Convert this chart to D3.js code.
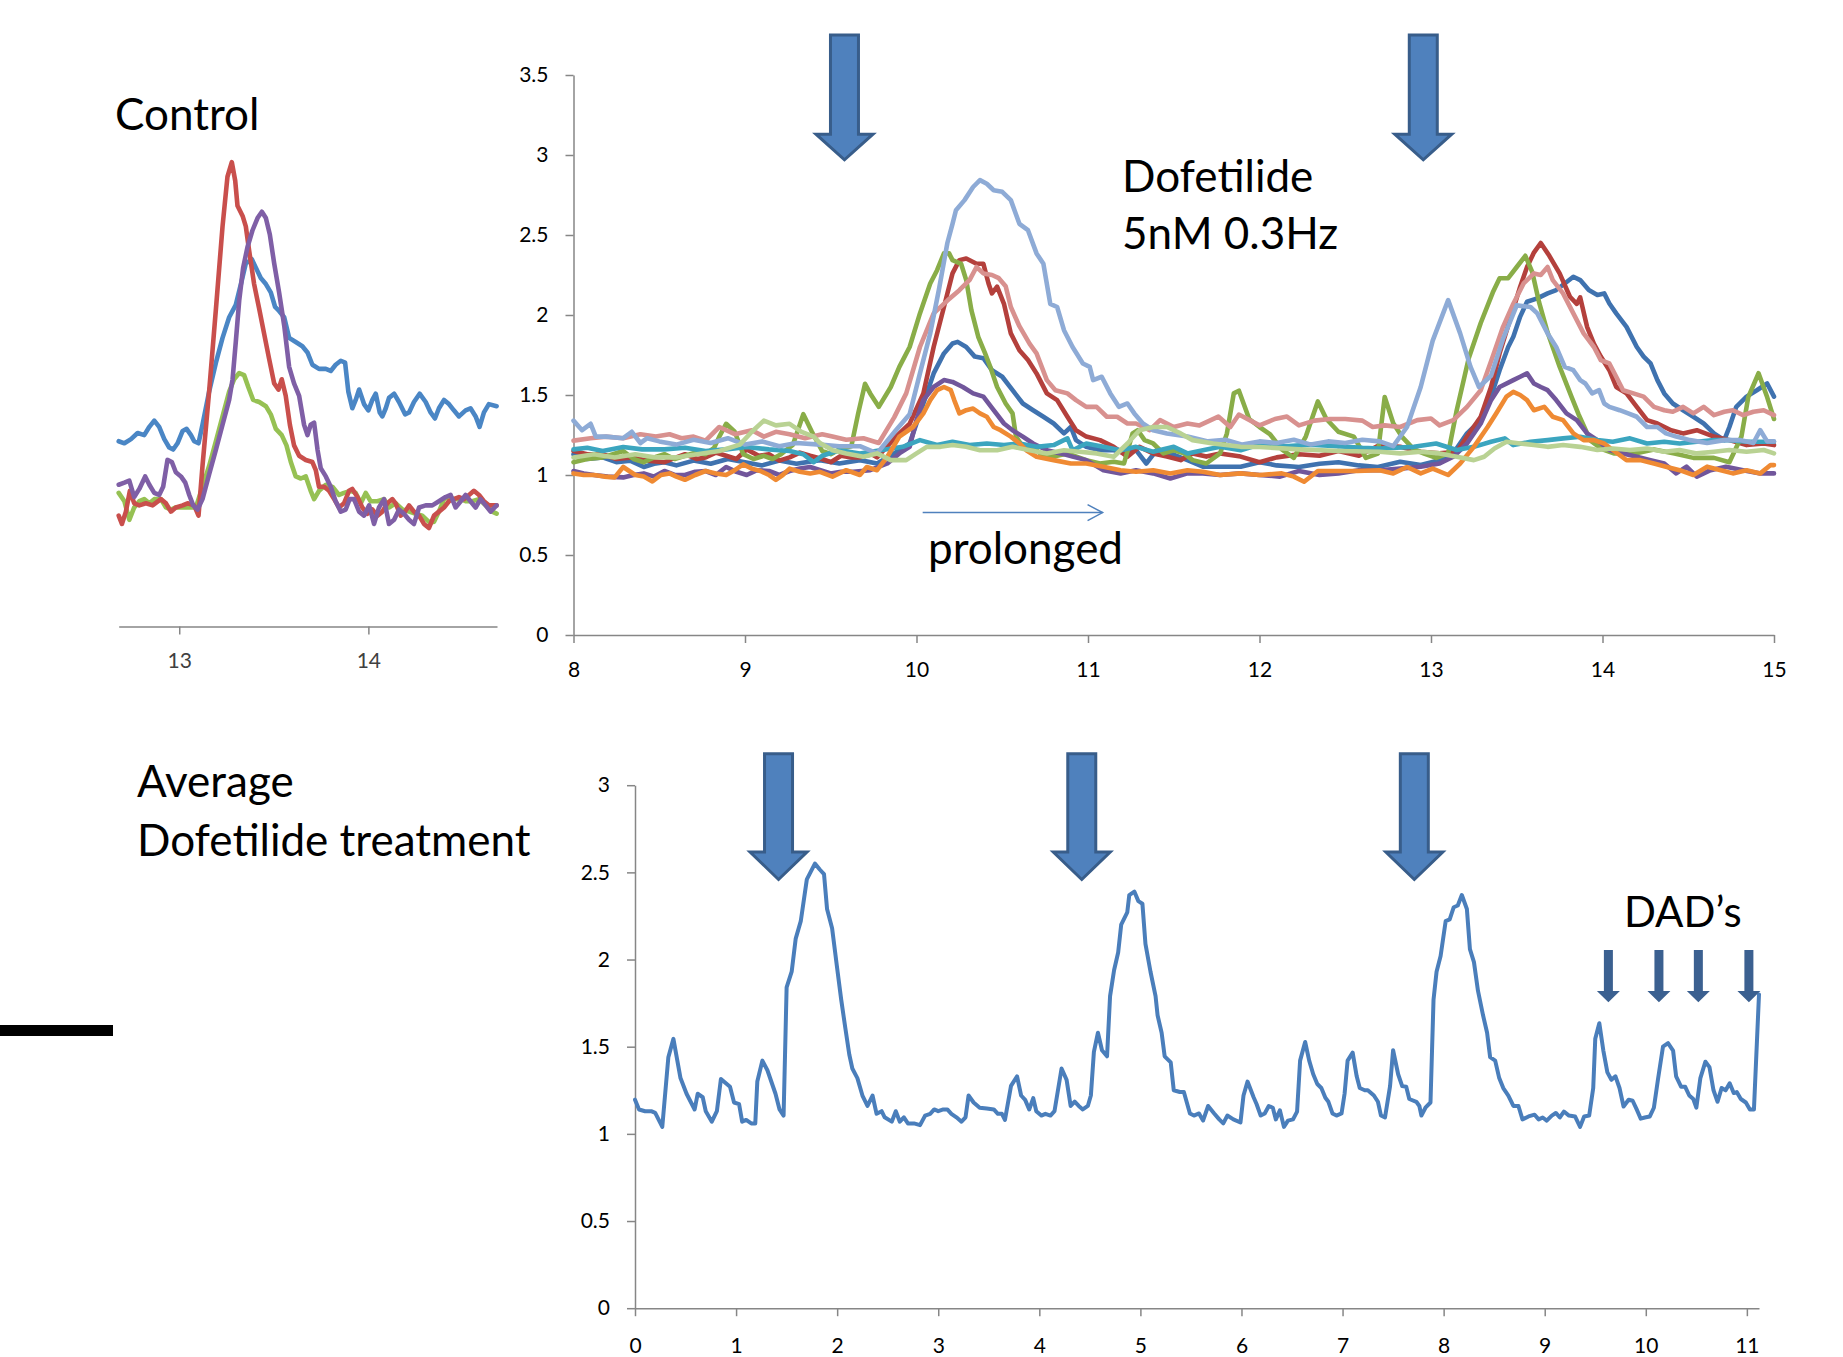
<!DOCTYPE html>
<html>
<head>
<meta charset="utf-8">
<script src="https://cdn.jsdelivr.net/npm/d3@7"></script>
<style>
  body { margin: 0; background: #fff; }
  svg { display: block; font-family: Lato, "Open Sans", sans-serif; }
  .tick text { font-family: Lato, sans-serif; }
</style>
</head>
<body>
<svg id="canvas" width="1843" height="1357"></svg>
<script>
// ---------- data: control traces (x in s, y ratio) ----------
let controlBlue = [[12.68,1.158],[12.71,1.145],[12.745,1.171],[12.78,1.209],[12.815,1.196],[12.842,1.248],[12.868,1.287],[12.894,1.248],[12.921,1.171],[12.947,1.119],[12.968,1.106],[12.991,1.145],[13.018,1.222],[13.039,1.235],[13.062,1.196],[13.079,1.158],[13.102,1.145],[13.123,1.261],[13.158,1.468],[13.194,1.649],[13.229,1.804],[13.264,1.933],[13.299,2.01],[13.326,2.14],[13.352,2.269],[13.384,2.295],[13.405,2.243],[13.431,2.178],[13.458,2.14],[13.484,2.088],[13.507,1.997],[13.528,1.972],[13.555,1.933],[13.581,1.804],[13.616,1.778],[13.651,1.752],[13.678,1.713],[13.704,1.636],[13.739,1.61],[13.775,1.61],[13.801,1.597],[13.827,1.636],[13.854,1.661],[13.877,1.649],[13.894,1.468],[13.915,1.364],[13.933,1.416],[13.951,1.481],[13.977,1.39],[14.0,1.351],[14.021,1.416],[14.039,1.455],[14.06,1.338],[14.074,1.313],[14.092,1.364],[14.109,1.429],[14.136,1.455],[14.162,1.403],[14.194,1.326],[14.215,1.338],[14.241,1.403],[14.271,1.455],[14.303,1.403],[14.329,1.338],[14.352,1.3],[14.373,1.364],[14.4,1.416],[14.426,1.39],[14.452,1.351],[14.479,1.313],[14.514,1.351],[14.54,1.364],[14.567,1.313],[14.588,1.248],[14.611,1.338],[14.637,1.39],[14.678,1.377]]
let controlRed = [[12.68,0.693],[12.697,0.641],[12.718,0.718],[12.739,0.848],[12.762,0.77],[12.789,0.757],[12.824,0.77],[12.859,0.757],[12.903,0.796],[12.93,0.77],[12.956,0.718],[12.982,0.744],[13.018,0.757],[13.044,0.77],[13.079,0.757],[13.102,0.693],[13.123,1.003],[13.158,1.468],[13.194,1.984],[13.229,2.501],[13.255,2.811],[13.278,2.902],[13.296,2.786],[13.308,2.63],[13.335,2.566],[13.352,2.501],[13.37,2.346],[13.396,2.14],[13.423,1.984],[13.449,1.829],[13.475,1.674],[13.502,1.519],[13.525,1.481],[13.542,1.545],[13.563,1.442],[13.585,1.261],[13.607,1.132],[13.634,1.067],[13.669,1.041],[13.704,1.028],[13.722,0.977],[13.739,0.873],[13.766,0.873],[13.792,0.848],[13.819,0.796],[13.845,0.744],[13.871,0.77],[13.898,0.848],[13.915,0.86],[13.942,0.809],[13.968,0.744],[13.995,0.705],[14.021,0.731],[14.048,0.693],[14.074,0.718],[14.1,0.77],[14.127,0.796],[14.144,0.77],[14.171,0.693],[14.194,0.718],[14.215,0.757],[14.241,0.718],[14.268,0.693],[14.294,0.641],[14.32,0.615],[14.347,0.693],[14.373,0.718],[14.4,0.744],[14.426,0.783],[14.452,0.796],[14.479,0.809],[14.505,0.796],[14.532,0.822],[14.558,0.848],[14.585,0.822],[14.611,0.783],[14.637,0.757],[14.678,0.757]]
let controlPurple = [[12.68,0.886],[12.71,0.899],[12.736,0.912],[12.762,0.809],[12.789,0.86],[12.82,0.938],[12.842,0.886],[12.868,0.835],[12.894,0.822],[12.915,0.873],[12.938,1.041],[12.961,1.028],[12.982,0.964],[13.009,0.938],[13.032,0.899],[13.053,0.822],[13.074,0.757],[13.097,0.731],[13.123,0.796],[13.158,0.951],[13.194,1.106],[13.229,1.261],[13.264,1.416],[13.282,1.545],[13.299,1.778],[13.317,2.036],[13.338,2.243],[13.361,2.372],[13.387,2.475],[13.414,2.553],[13.437,2.592],[13.458,2.553],[13.479,2.45],[13.502,2.269],[13.528,2.088],[13.555,1.881],[13.581,1.623],[13.607,1.519],[13.634,1.442],[13.66,1.261],[13.678,1.196],[13.695,1.261],[13.713,1.274],[13.731,1.106],[13.748,0.99],[13.775,0.938],[13.801,0.873],[13.827,0.783],[13.854,0.718],[13.88,0.731],[13.901,0.796],[13.924,0.796],[13.951,0.718],[13.977,0.693],[14.004,0.757],[14.03,0.641],[14.056,0.744],[14.083,0.796],[14.109,0.641],[14.136,0.667],[14.162,0.731],[14.188,0.705],[14.215,0.667],[14.241,0.641],[14.268,0.744],[14.303,0.757],[14.338,0.757],[14.373,0.783],[14.408,0.809],[14.435,0.822],[14.461,0.744],[14.488,0.783],[14.514,0.822],[14.54,0.783],[14.567,0.744],[14.593,0.796],[14.62,0.757],[14.646,0.718],[14.678,0.757]]
let controlGreen = [[12.68,0.835],[12.71,0.783],[12.736,0.667],[12.762,0.744],[12.789,0.783],[12.815,0.796],[12.842,0.77],[12.868,0.796],[12.903,0.796],[12.93,0.744],[12.956,0.731],[12.982,0.744],[13.018,0.744],[13.053,0.744],[13.088,0.744],[13.123,0.873],[13.158,1.003],[13.194,1.158],[13.229,1.313],[13.264,1.468],[13.29,1.545],[13.317,1.584],[13.343,1.571],[13.366,1.494],[13.391,1.416],[13.423,1.403],[13.458,1.377],[13.484,1.326],[13.511,1.235],[13.542,1.196],[13.567,1.132],[13.59,1.028],[13.616,0.938],[13.643,0.925],[13.669,0.938],[13.695,0.848],[13.713,0.796],[13.739,0.848],[13.775,0.886],[13.81,0.873],[13.845,0.822],[13.871,0.835],[13.907,0.848],[13.933,0.835],[13.96,0.77],[13.986,0.835],[14.012,0.783],[14.048,0.783],[14.083,0.796],[14.109,0.744],[14.144,0.77],[14.18,0.731],[14.215,0.718],[14.25,0.705],[14.285,0.693],[14.32,0.654],[14.347,0.654],[14.373,0.718],[14.4,0.796],[14.426,0.809],[14.452,0.796],[14.488,0.796],[14.514,0.783],[14.549,0.783],[14.585,0.796],[14.62,0.757],[14.655,0.718],[14.678,0.705]]
let controlTicks = [13, 14]

// ---------- data: dofetilide 5nM 0.3Hz traces ----------
let doseBlue = [[8.0,1.13],[8.08,1.1],[8.17,1.11],[8.25,1.08],[8.33,1.09],[8.41,1.05],[8.47,1.07],[8.53,1.08],[8.6,1.06],[8.7,1.09],[8.8,1.07],[8.9,1.1],[9.0,1.08],[9.1,1.06],[9.2,1.09],[9.3,1.07],[9.437,1.093],[9.55,1.072],[9.67,1.093],[9.77,1.072],[9.87,1.135],[9.96,1.197],[10.04,1.447],[10.1,1.635],[10.16,1.76],[10.21,1.822],[10.24,1.832],[10.29,1.8],[10.34,1.74],[10.39,1.73],[10.44,1.655],[10.5,1.614],[10.56,1.53],[10.62,1.447],[10.68,1.405],[10.74,1.364],[10.8,1.322],[10.86,1.26],[10.9,1.3],[10.93,1.218],[10.99,1.176],[11.07,1.155],[11.15,1.155],[11.23,1.135],[11.28,1.155],[11.34,1.072],[11.4,1.155],[11.48,1.135],[11.58,1.093],[11.67,1.052],[11.77,1.052],[11.89,1.052],[12.0,1.08],[12.1,1.06],[12.23,1.05],[12.35,1.07],[12.46,1.08],[12.58,1.06],[12.69,1.05],[12.82,1.083],[12.94,1.062],[13.05,1.093],[13.13,1.135],[13.21,1.26],[13.29,1.343],[13.35,1.49],[13.4,1.655],[13.45,1.8],[13.48,1.864],[13.52,1.99],[13.56,2.083],[13.62,2.104],[13.68,2.135],[13.73,2.156],[13.78,2.197],[13.83,2.239],[13.87,2.218],[13.92,2.156],[13.97,2.125],[14.01,2.135],[14.04,2.072],[14.08,2.01],[14.14,1.926],[14.2,1.8],[14.24,1.74],[14.28,1.697],[14.32,1.593],[14.36,1.51],[14.41,1.447],[14.47,1.405],[14.53,1.364],[14.59,1.322],[14.65,1.26],[14.71,1.218],[14.74,1.3],[14.78,1.426],[14.84,1.49],[14.9,1.53],[14.96,1.572],[15.0,1.49]]
let doseRed = [[8.0,1.15],[8.08,1.13],[8.17,1.13],[8.25,1.1],[8.34,1.11],[8.43,1.09],[8.53,1.08],[8.6,1.11],[8.65,1.13],[8.72,1.1],[8.77,1.11],[8.83,1.14],[8.89,1.12],[8.95,1.1],[9.01,1.16],[9.08,1.12],[9.14,1.13],[9.2,1.09],[9.26,1.11],[9.32,1.14],[9.38,1.12],[9.45,1.1],[9.5,1.08],[9.56,1.12],[9.62,1.11],[9.67,1.11],[9.74,1.13],[9.77,1.11],[9.88,1.24],[9.96,1.32],[10.04,1.51],[10.1,1.8],[10.16,2.05],[10.21,2.26],[10.25,2.343],[10.29,2.353],[10.35,2.32],[10.39,2.32],[10.42,2.197],[10.44,2.135],[10.47,2.177],[10.51,2.07],[10.55,1.885],[10.6,1.78],[10.65,1.718],[10.7,1.635],[10.76,1.51],[10.82,1.468],[10.88,1.364],[10.93,1.28],[10.99,1.24],[11.07,1.218],[11.15,1.176],[11.23,1.115],[11.3,1.176],[11.38,1.135],[11.46,1.115],[11.54,1.093],[11.61,1.135],[11.69,1.115],[11.77,1.135],[11.89,1.115],[12.0,1.08],[12.1,1.11],[12.23,1.13],[12.35,1.12],[12.46,1.15],[12.58,1.12],[12.7,1.187],[12.82,1.176],[12.94,1.145],[13.05,1.135],[13.15,1.145],[13.21,1.24],[13.29,1.364],[13.35,1.55],[13.4,1.76],[13.46,1.968],[13.52,2.177],[13.56,2.3],[13.6,2.39],[13.64,2.45],[13.69,2.37],[13.75,2.26],[13.81,2.114],[13.85,2.07],[13.87,2.11],[13.91,1.926],[13.95,1.82],[13.99,1.74],[14.04,1.655],[14.08,1.55],[14.14,1.51],[14.2,1.426],[14.26,1.343],[14.32,1.322],[14.4,1.28],[14.47,1.26],[14.55,1.28],[14.65,1.24],[14.74,1.218],[14.84,1.187],[14.94,1.197],[15.0,1.187]]
let doseGreen = [[8.0,1.08],[8.08,1.1],[8.17,1.11],[8.23,1.13],[8.29,1.15],[8.35,1.1],[8.41,1.08],[8.47,1.11],[8.53,1.13],[8.59,1.1],[8.65,1.12],[8.71,1.14],[8.77,1.13],[8.82,1.17],[8.85,1.24],[8.89,1.32],[8.94,1.27],[8.99,1.13],[9.05,1.1],[9.11,1.12],[9.16,1.1],[9.21,1.13],[9.28,1.19],[9.34,1.38],[9.39,1.27],[9.45,1.15],[9.5,1.13],[9.55,1.16],[9.62,1.18],[9.66,1.385],[9.7,1.57],[9.73,1.51],[9.78,1.426],[9.85,1.55],[9.9,1.676],[9.96,1.8],[10.02,2.01],[10.08,2.197],[10.12,2.28],[10.16,2.385],[10.19,2.385],[10.21,2.343],[10.26,2.32],[10.29,2.218],[10.32,2.03],[10.36,1.864],[10.4,1.76],[10.43,1.676],[10.47,1.55],[10.52,1.447],[10.56,1.385],[10.58,1.24],[10.62,1.176],[10.68,1.176],[10.72,1.135],[10.8,1.115],[10.88,1.135],[10.99,1.093],[11.07,1.072],[11.15,1.083],[11.21,1.072],[11.26,1.26],[11.29,1.28],[11.33,1.218],[11.38,1.197],[11.44,1.135],[11.5,1.155],[11.56,1.135],[11.61,1.093],[11.69,1.072],[11.77,1.135],[11.81,1.26],[11.85,1.51],[11.88,1.527],[11.94,1.35],[12.0,1.3],[12.06,1.256],[12.13,1.16],[12.2,1.107],[12.27,1.24],[12.34,1.46],[12.39,1.35],[12.46,1.27],[12.55,1.24],[12.62,1.107],[12.69,1.134],[12.73,1.487],[12.78,1.324],[12.83,1.24],[12.9,1.16],[12.96,1.134],[13.03,1.107],[13.1,1.134],[13.15,1.405],[13.22,1.73],[13.29,1.95],[13.36,2.14],[13.4,2.23],[13.45,2.23],[13.5,2.3],[13.55,2.37],[13.59,2.27],[13.63,2.08],[13.68,1.89],[13.75,1.677],[13.82,1.487],[13.86,1.38],[13.93,1.215],[14.0,1.16],[14.07,1.134],[14.19,1.134],[14.3,1.16],[14.42,1.134],[14.53,1.107],[14.65,1.107],[14.74,1.08],[14.81,1.24],[14.85,1.487],[14.91,1.636],[14.96,1.487],[15.0,1.35]]
let dosePurple = [[8.0,1.025],[8.06,1.01],[8.12,1.0],[8.2,0.99],[8.29,0.985],[8.35,1.0],[8.41,1.01],[8.47,0.99],[8.53,1.025],[8.59,1.0],[8.65,1.0],[8.71,1.02],[8.77,1.025],[8.83,1.0],[8.89,1.05],[8.95,1.02],[9.01,1.0],[9.07,1.03],[9.14,1.025],[9.2,1.0],[9.26,1.025],[9.32,1.04],[9.38,1.05],[9.44,1.03],[9.5,1.01],[9.56,1.02],[9.63,1.02],[9.73,1.03],[9.83,1.072],[9.9,1.135],[9.96,1.176],[10.0,1.343],[10.04,1.468],[10.1,1.55],[10.16,1.593],[10.21,1.582],[10.27,1.55],[10.33,1.51],[10.39,1.49],[10.45,1.405],[10.51,1.322],[10.56,1.28],[10.62,1.24],[10.68,1.197],[10.76,1.155],[10.84,1.135],[10.91,1.115],[10.99,1.093],[11.09,1.03],[11.19,1.01],[11.28,1.03],[11.38,1.01],[11.48,0.978],[11.58,1.01],[11.67,1.01],[11.77,1.0],[11.89,1.01],[12.0,1.0],[12.12,0.99],[12.23,1.025],[12.35,1.0],[12.46,1.01],[12.58,1.03],[12.7,1.03],[12.82,1.04],[12.94,1.052],[13.05,1.072],[13.13,1.114],[13.21,1.197],[13.29,1.322],[13.35,1.468],[13.4,1.55],[13.48,1.593],[13.52,1.614],[13.56,1.635],[13.6,1.572],[13.64,1.55],[13.68,1.53],[13.73,1.468],[13.79,1.385],[13.85,1.343],[13.91,1.26],[13.97,1.218],[14.04,1.156],[14.12,1.135],[14.2,1.114],[14.28,1.093],[14.36,1.072],[14.43,1.01],[14.49,1.052],[14.55,0.99],[14.63,1.03],[14.72,1.052],[14.82,1.03],[14.92,1.01],[15.0,1.01]]
let doseTeal = [[8.0,1.16],[8.08,1.17],[8.17,1.15],[8.29,1.175],[8.4,1.16],[8.53,1.16],[8.65,1.17],[8.77,1.15],[8.89,1.16],[9.01,1.175],[9.14,1.16],[9.26,1.15],[9.34,1.13],[9.4,1.08],[9.45,1.12],[9.55,1.155],[9.67,1.135],[9.79,1.155],[9.92,1.176],[10.02,1.218],[10.12,1.187],[10.21,1.208],[10.31,1.187],[10.41,1.197],[10.51,1.187],[10.6,1.197],[10.7,1.176],[10.8,1.187],[10.88,1.229],[10.91,1.155],[10.99,1.197],[11.09,1.176],[11.19,1.155],[11.28,1.176],[11.38,1.145],[11.5,1.176],[11.58,1.135],[11.67,1.155],[11.77,1.176],[11.89,1.155],[12.0,1.19],[12.15,1.18],[12.3,1.19],[12.45,1.18],[12.6,1.17],[12.7,1.166],[12.9,1.176],[13.03,1.197],[13.15,1.156],[13.25,1.176],[13.35,1.208],[13.43,1.229],[13.48,1.187],[13.58,1.208],[13.68,1.218],[13.77,1.229],[13.87,1.239],[13.97,1.218],[14.06,1.208],[14.16,1.229],[14.26,1.197],[14.36,1.208],[14.45,1.197],[14.55,1.208],[14.65,1.218],[14.74,1.218],[14.84,1.208],[14.94,1.208],[15.0,1.208]]
let doseOrange = [[8.0,1.01],[8.06,1.0],[8.12,1.0],[8.18,0.99],[8.24,0.985],[8.29,1.05],[8.36,1.0],[8.41,0.99],[8.46,0.96],[8.51,1.0],[8.56,1.01],[8.6,0.99],[8.65,0.97],[8.71,1.0],[8.77,1.025],[8.83,1.01],[8.89,1.0],[8.94,1.03],[8.99,1.066],[9.04,1.04],[9.09,1.025],[9.14,1.0],[9.18,0.97],[9.22,1.0],[9.26,1.04],[9.32,1.02],[9.38,1.01],[9.437,1.02],[9.51,0.99],[9.59,1.03],[9.67,1.0],[9.71,1.05],[9.77,1.03],[9.83,1.114],[9.9,1.24],[9.98,1.3],[10.04,1.385],[10.08,1.468],[10.12,1.53],[10.16,1.55],[10.2,1.53],[10.22,1.468],[10.25,1.385],[10.29,1.405],[10.33,1.415],[10.37,1.385],[10.41,1.364],[10.45,1.3],[10.49,1.28],[10.55,1.24],[10.6,1.197],[10.64,1.155],[10.7,1.114],[10.8,1.093],[10.9,1.072],[10.99,1.072],[11.09,1.052],[11.19,1.03],[11.28,1.02],[11.38,1.03],[11.48,1.01],[11.58,1.03],[11.67,1.02],[11.77,1.0],[11.89,1.01],[12.0,1.0],[12.13,1.01],[12.2,0.99],[12.26,0.958],[12.34,1.025],[12.46,1.025],[12.57,1.025],[12.7,1.03],[12.78,1.01],[12.86,1.05],[12.94,1.01],[13.01,1.04],[13.1,1.0],[13.17,1.072],[13.25,1.176],[13.33,1.3],[13.38,1.385],[13.44,1.49],[13.48,1.52],[13.52,1.5],[13.56,1.468],[13.6,1.405],[13.66,1.426],[13.71,1.364],[13.77,1.343],[13.83,1.26],[13.89,1.218],[13.95,1.218],[14.01,1.197],[14.06,1.156],[14.14,1.093],[14.22,1.093],[14.3,1.072],[14.37,1.052],[14.45,1.03],[14.53,1.0],[14.61,1.052],[14.69,1.03],[14.76,1.01],[14.84,1.03],[14.92,1.01],[14.98,1.062],[15.0,1.062]]
let dosePink = [[8.0,1.215],[8.1,1.23],[8.19,1.24],[8.29,1.23],[8.39,1.255],[8.48,1.24],[8.56,1.255],[8.63,1.23],[8.7,1.24],[8.77,1.215],[8.85,1.3],[8.94,1.255],[9.04,1.28],[9.11,1.24],[9.18,1.27],[9.26,1.255],[9.35,1.23],[9.45,1.255],[9.51,1.24],[9.59,1.22],[9.69,1.23],[9.78,1.2],[9.87,1.36],[9.94,1.51],[10.02,1.8],[10.1,2.01],[10.18,2.09],[10.25,2.155],[10.31,2.22],[10.35,2.3],[10.39,2.26],[10.44,2.25],[10.48,2.23],[10.52,2.18],[10.55,2.05],[10.6,1.93],[10.66,1.82],[10.7,1.76],[10.76,1.593],[10.81,1.53],[10.88,1.51],[10.93,1.468],[10.99,1.426],[11.05,1.426],[11.11,1.364],[11.17,1.364],[11.23,1.322],[11.28,1.322],[11.36,1.28],[11.42,1.343],[11.5,1.3],[11.58,1.322],[11.65,1.31],[11.76,1.365],[11.83,1.3],[11.88,1.378],[12.0,1.31],[12.09,1.35],[12.16,1.365],[12.23,1.31],[12.32,1.34],[12.41,1.35],[12.5,1.35],[12.6,1.34],[12.66,1.3],[12.73,1.31],[12.82,1.3],[12.92,1.343],[13.0,1.353],[13.05,1.31],[13.13,1.343],[13.21,1.426],[13.29,1.53],[13.36,1.74],[13.42,1.926],[13.48,2.07],[13.54,2.197],[13.6,2.26],[13.64,2.25],[13.68,2.3],[13.71,2.218],[13.77,2.135],[13.83,2.01],[13.89,1.885],[13.95,1.8],[13.99,1.718],[14.04,1.697],[14.08,1.614],[14.12,1.53],[14.18,1.51],[14.24,1.49],[14.3,1.426],[14.36,1.405],[14.41,1.395],[14.47,1.426],[14.53,1.385],[14.59,1.426],[14.65,1.374],[14.71,1.395],[14.76,1.405],[14.82,1.374],[14.88,1.395],[14.94,1.405],[15.0,1.374]]
let doseLightBlue = [[8.0,1.34],[8.05,1.28],[8.1,1.32],[8.13,1.24],[8.19,1.24],[8.29,1.23],[8.34,1.27],[8.39,1.2],[8.43,1.23],[8.5,1.21],[8.6,1.19],[8.7,1.22],[8.8,1.2],[8.9,1.23],[9.0,1.19],[9.1,1.21],[9.2,1.18],[9.3,1.2],[9.437,1.19],[9.55,1.18],[9.67,1.18],[9.77,1.135],[9.88,1.28],[9.96,1.38],[10.02,1.635],[10.08,1.885],[10.13,2.155],[10.18,2.45],[10.21,2.57],[10.23,2.655],[10.28,2.718],[10.33,2.8],[10.37,2.843],[10.41,2.82],[10.45,2.78],[10.5,2.77],[10.55,2.718],[10.6,2.57],[10.65,2.53],[10.7,2.385],[10.74,2.32],[10.78,2.07],[10.82,2.05],[10.86,1.905],[10.91,1.8],[10.97,1.697],[11.01,1.676],[11.03,1.593],[11.08,1.614],[11.13,1.51],[11.18,1.426],[11.23,1.447],[11.27,1.385],[11.32,1.322],[11.38,1.28],[11.46,1.26],[11.58,1.24],[11.7,1.21],[11.8,1.22],[11.9,1.19],[12.0,1.21],[12.1,1.2],[12.2,1.22],[12.3,1.19],[12.4,1.21],[12.5,1.2],[12.6,1.22],[12.7,1.21],[12.78,1.18],[12.86,1.3],[12.94,1.55],[13.01,1.84],[13.1,2.093],[13.17,1.885],[13.23,1.677],[13.28,1.55],[13.35,1.62],[13.42,1.85],[13.5,2.06],[13.58,2.05],[13.62,2.01],[13.68,1.885],[13.73,1.8],[13.78,1.676],[13.83,1.655],[13.87,1.593],[13.9,1.572],[13.94,1.51],[13.98,1.53],[14.01,1.447],[14.04,1.426],[14.1,1.405],[14.15,1.385],[14.2,1.364],[14.26,1.3],[14.32,1.3],[14.37,1.26],[14.43,1.24],[14.51,1.218],[14.61,1.2],[14.71,1.218],[14.8,1.218],[14.88,1.2],[14.92,1.28],[14.96,1.21],[15.0,1.21]]
let doseLightGreen = [[8.0,1.11],[8.12,1.13],[8.24,1.11],[8.36,1.13],[8.48,1.11],[8.6,1.11],[8.72,1.13],[8.85,1.15],[8.97,1.19],[9.04,1.27],[9.11,1.34],[9.18,1.31],[9.26,1.32],[9.33,1.27],[9.4,1.24],[9.437,1.2],[9.51,1.155],[9.59,1.135],[9.69,1.114],[9.77,1.135],[9.85,1.093],[9.94,1.093],[10.0,1.135],[10.06,1.176],[10.14,1.176],[10.21,1.187],[10.29,1.176],[10.37,1.155],[10.47,1.155],[10.56,1.176],[10.66,1.155],[10.76,1.135],[10.86,1.155],[10.95,1.145],[11.05,1.135],[11.15,1.114],[11.23,1.197],[11.3,1.28],[11.38,1.3],[11.46,1.3],[11.54,1.26],[11.61,1.218],[11.73,1.197],[11.89,1.176],[12.0,1.175],[12.23,1.16],[12.46,1.15],[12.7,1.145],[12.82,1.135],[12.94,1.145],[13.05,1.135],[13.15,1.114],[13.25,1.093],[13.31,1.114],[13.37,1.166],[13.44,1.208],[13.52,1.197],[13.6,1.187],[13.68,1.176],[13.77,1.187],[13.87,1.176],[13.97,1.156],[14.06,1.166],[14.16,1.156],[14.26,1.166],[14.36,1.145],[14.45,1.156],[14.55,1.135],[14.65,1.145],[14.74,1.156],[14.84,1.145],[14.94,1.156],[15.0,1.135]]
let doseXTicks = [8, 9, 10, 11, 12, 13, 14, 15]
let doseYTicks = [0, 0.5, 1, 1.5, 2, 2.5, 3, 3.5]
let doseStimuli = [9.58, 12.955]

// ---------- data: average trace ----------
let averageTrace = [[0,1.196],[0.04,1.14],[0.1,1.13],[0.16,1.13],[0.2,1.12],[0.27,1.04],[0.33,1.44],[0.38,1.545],[0.45,1.32],[0.51,1.23],[0.59,1.14],[0.62,1.23],[0.67,1.21],[0.7,1.13],[0.76,1.07],[0.81,1.13],[0.85,1.315],[0.94,1.27],[0.98,1.18],[1.03,1.17],[1.06,1.07],[1.1,1.08],[1.15,1.06],[1.19,1.06],[1.21,1.3],[1.26,1.42],[1.31,1.365],[1.39,1.23],[1.43,1.14],[1.47,1.105],[1.5,1.84],[1.55,1.93],[1.59,2.12],[1.64,2.22],[1.7,2.46],[1.78,2.55],[1.83,2.515],[1.87,2.49],[1.9,2.29],[1.95,2.18],[2.0,1.95],[2.04,1.77],[2.08,1.61],[2.12,1.455],[2.15,1.375],[2.2,1.32],[2.25,1.22],[2.3,1.16],[2.35,1.22],[2.39,1.115],[2.44,1.13],[2.47,1.095],[2.54,1.07],[2.58,1.13],[2.62,1.07],[2.66,1.095],[2.7,1.06],[2.76,1.06],[2.82,1.05],[2.87,1.105],[2.92,1.115],[2.96,1.14],[3.0,1.13],[3.05,1.14],[3.09,1.14],[3.13,1.115],[3.18,1.095],[3.23,1.07],[3.27,1.095],[3.3,1.22],[3.35,1.18],[3.41,1.15],[3.48,1.145],[3.55,1.14],[3.59,1.115],[3.63,1.115],[3.66,1.08],[3.72,1.275],[3.78,1.33],[3.82,1.22],[3.86,1.195],[3.9,1.14],[3.94,1.205],[3.97,1.13],[4.02,1.105],[4.06,1.115],[4.11,1.105],[4.15,1.13],[4.22,1.375],[4.27,1.31],[4.31,1.16],[4.35,1.185],[4.39,1.16],[4.43,1.14],[4.48,1.16],[4.51,1.22],[4.54,1.47],[4.58,1.58],[4.62,1.48],[4.67,1.445],[4.7,1.79],[4.74,1.94],[4.78,2.04],[4.81,2.2],[4.87,2.27],[4.89,2.37],[4.94,2.39],[4.98,2.335],[5.02,2.32],[5.05,2.09],[5.1,1.93],[5.15,1.79],[5.17,1.68],[5.21,1.58],[5.24,1.445],[5.3,1.41],[5.33,1.25],[5.39,1.24],[5.43,1.24],[5.49,1.117],[5.53,1.105],[5.58,1.117],[5.62,1.076],[5.67,1.16],[5.73,1.117],[5.78,1.083],[5.82,1.06],[5.86,1.105],[5.92,1.083],[5.99,1.065],[6.02,1.22],[6.06,1.3],[6.12,1.21],[6.15,1.17],[6.19,1.105],[6.23,1.117],[6.27,1.16],[6.31,1.15],[6.34,1.083],[6.38,1.135],[6.42,1.04],[6.46,1.076],[6.51,1.083],[6.55,1.128],[6.58,1.42],[6.63,1.527],[6.67,1.42],[6.71,1.342],[6.75,1.286],[6.79,1.263],[6.83,1.207],[6.86,1.184],[6.9,1.117],[6.94,1.105],[6.99,1.117],[7.02,1.23],[7.05,1.42],[7.1,1.466],[7.14,1.33],[7.17,1.263],[7.22,1.25],[7.25,1.25],[7.31,1.22],[7.35,1.184],[7.38,1.105],[7.42,1.094],[7.47,1.274],[7.5,1.48],[7.55,1.342],[7.59,1.274],[7.63,1.27],[7.66,1.2],[7.73,1.184],[7.76,1.16],[7.78,1.105],[7.82,1.15],[7.87,1.18],[7.9,1.77],[7.93,1.93],[7.97,2.02],[8.02,2.22],[8.06,2.23],[8.1,2.3],[8.14,2.31],[8.18,2.37],[8.23,2.29],[8.26,2.06],[8.3,1.985],[8.34,1.82],[8.39,1.68],[8.43,1.58],[8.46,1.44],[8.51,1.42],[8.55,1.32],[8.59,1.263],[8.64,1.22],[8.69,1.16],[8.74,1.16],[8.78,1.083],[8.84,1.1],[8.9,1.11],[8.94,1.083],[8.98,1.094],[9.02,1.076],[9.07,1.105],[9.11,1.12],[9.15,1.094],[9.19,1.128],[9.24,1.105],[9.3,1.1],[9.35,1.04],[9.39,1.1],[9.44,1.105],[9.48,1.263],[9.5,1.545],[9.54,1.635],[9.58,1.478],[9.62,1.353],[9.66,1.31],[9.7,1.33],[9.74,1.263],[9.78,1.157],[9.83,1.196],[9.87,1.19],[9.91,1.14],[9.95,1.087],[9.99,1.094],[10.04,1.1],[10.08,1.15],[10.12,1.31],[10.17,1.5],[10.22,1.52],[10.27,1.478],[10.3,1.33],[10.35,1.27],[10.39,1.27],[10.43,1.22],[10.47,1.2],[10.5,1.15],[10.54,1.32],[10.59,1.414],[10.63,1.383],[10.67,1.25],[10.71,1.184],[10.75,1.263],[10.79,1.25],[10.83,1.29],[10.87,1.234],[10.9,1.24],[10.94,1.2],[10.99,1.18],[11.03,1.14],[11.07,1.14],[11.12,1.8]]
let averageXTicks = [0, 1, 2, 3, 4, 5, 6, 7, 8, 9, 10, 11]
let averageYTicks = [0, 0.5, 1, 1.5, 2, 2.5, 3]
let averageStimuli = [1.42, 4.42, 7.71]
let dadMarks = [9.63, 10.13, 10.52, 11.02]

// ---------- drawing ----------
let canvas = d3.select('#canvas')
let axisGrey = '#868686'

let styleAxis = (g, labelColor) => {
    g.select('.domain').attr('stroke', axisGrey).attr('stroke-width', 1.5)
    g.selectAll('.tick line').attr('stroke', axisGrey).attr('stroke-width', 1.5)
    g.selectAll('.tick text').attr('fill', labelColor).style('font-size', '21px')
}

let drawLine = (g, x, y, data, color, width) => {
    let line = d3.line().x(d => x(d[0])).y(d => y(d[1]))
    g.append('path')
        .datum(data)
        .attr('d', line)
        .attr('fill', 'none')
        .attr('stroke', color)
        .attr('stroke-width', width)
        .attr('stroke-linejoin', 'round')
        .attr('stroke-linecap', 'round')
}

// block arrow pointing down
let drawBlockArrow = (g, cx, yTop, yHead, yTip, shaftW, headW, fill, stroke) => {
    let p = d3.path()
    p.moveTo(cx - shaftW / 2, yTop)
    p.lineTo(cx + shaftW / 2, yTop)
    p.lineTo(cx + shaftW / 2, yHead)
    p.lineTo(cx + headW / 2, yHead)
    p.lineTo(cx, yTip)
    p.lineTo(cx - headW / 2, yHead)
    p.lineTo(cx - shaftW / 2, yHead)
    p.closePath()
    g.append('path')
        .attr('d', p.toString())
        .attr('fill', fill)
        .attr('stroke', stroke || 'none')
        .attr('stroke-width', stroke ? 3 : 0)
        .attr('stroke-linejoin', 'miter')
}

// ----- control panel -----
let cx = d3.scaleLinear().domain([12.68, 14.68]).range([118.7, 497])
let cy = d3.scaleLinear().domain([0, 3.5]).range([626.5, 66.5])
let control = canvas.append('g')
control.append('g')
    .attr('transform', 'translate(0,626.5)')
    .call(d3.axisBottom(cx).tickValues(controlTicks).tickFormat(d3.format('d')).tickSize(8).tickPadding(19).tickSizeOuter(0))
    .call(g => styleAxis(g, '#404040'))
drawLine(control, cx, cy, controlBlue, '#4a86c5', 4.6)
drawLine(control, cx, cy, controlGreen, '#96c153', 4.6)
drawLine(control, cx, cy, controlRed, '#c94f4c', 4.6)
drawLine(control, cx, cy, controlPurple, '#7f5fa6', 4.6)
control.append('text').attr('x', 115).attr('y', 130).style('font-size', '44px').text('Control')

// ----- dofetilide panel -----
let dx = d3.scaleLinear().domain([8, 15]).range([573.5, 1774])
let dy = d3.scaleLinear().domain([0, 3.5]).range([635, 75])
let dose = canvas.append('g')
dose.append('g')
    .attr('transform', 'translate(0,635)')
    .call(d3.axisBottom(dx).tickValues(doseXTicks).tickFormat(d3.format('d')).tickSize(8).tickPadding(19).tickSizeOuter(0))
    .call(g => styleAxis(g, '#000'))
dose.append('g')
    .attr('transform', 'translate(573.5,0)')
    .call(d3.axisLeft(dy).tickValues(doseYTicks).tickFormat(d => String(d)).tickSize(8).tickPadding(17).tickSizeOuter(0))
    .call(g => styleAxis(g, '#000'))

let doseSeries = [
    [doseBlue, '#3f72af'],
    [doseRed, '#b4403c'],
    [doseGreen, '#89ad48'],
    [dosePurple, '#71569b'],
    [doseTeal, '#3ba5bf'],
    [doseOrange, '#ef8a33'],
    [dosePink, '#d8918f'],
    [doseLightBlue, '#8eabd6'],
    [doseLightGreen, '#b9d293']
]
doseSeries.forEach(s => drawLine(dose, dx, dy, s[0], s[1], 4.6))

doseStimuli.forEach(t => {
    drawBlockArrow(dose, dx(t), dy(3.75), dy(3.13), dy(2.97), 28, 57, '#4f81bd', '#385d8a')
})

dose.append('text').attr('x', 1122).attr('y', 192).style('font-size', '44px').text('Dofetilide')
dose.append('text').attr('x', 1122).attr('y', 249).style('font-size', '44px').text('5nM 0.3Hz')

// thin "prolonged" arrow
let px0 = dx(10.036), px1 = dx(11.085), py = dy(0.765)
dose.append('line').attr('x1', px0).attr('x2', px1).attr('y1', py).attr('y2', py)
    .attr('stroke', '#4f81bd').attr('stroke-width', 1.5)
dose.append('path')
    .attr('d', `M${px1 - 15},${py - 8}L${px1},${py}L${px1 - 15},${py + 8}`)
    .attr('fill', 'none').attr('stroke', '#4f81bd').attr('stroke-width', 1.5)
dose.append('text').attr('x', 928).attr('y', 564).style('font-size', '44px').text('prolonged')

// ----- average panel -----
let ax = d3.scaleLinear().domain([0, 11.12]).range([635, 1759])
let ay = d3.scaleLinear().domain([0, 3]).range([1308.2, 785.2])
let avg = canvas.append('g')
avg.append('g')
    .attr('transform', 'translate(0,1308.2)')
    .call(d3.axisBottom(ax).tickValues(averageXTicks).tickFormat(d3.format('d')).tickSize(8).tickPadding(22).tickSizeOuter(0))
    .call(g => styleAxis(g, '#000'))
avg.append('g')
    .attr('transform', 'translate(635,0)')
    .call(d3.axisLeft(ay).tickValues(averageYTicks).tickFormat(d => String(d)).tickSize(8).tickPadding(17).tickSizeOuter(0))
    .call(g => styleAxis(g, '#000'))

drawLine(avg, ax, ay, averageTrace, '#4a7ebb', 4)

averageStimuli.forEach(t => {
    drawBlockArrow(avg, ax(t), ay(3.18), ay(2.617), ay(2.459), 28, 57, '#4f81bd', '#385d8a')
})
dadMarks.forEach(t => {
    drawBlockArrow(avg, ax(t), ay(2.055), ay(1.82), ay(1.755), 9, 23, '#3b6090', null)
})
avg.append('text').attr('x', 1624).attr('y', 927).style('font-size', '42px').text('DAD\u2019s')

canvas.append('text').attr('x', 137).attr('y', 797).style('font-size', '44px').text('Average')
canvas.append('text').attr('x', 137).attr('y', 856).style('font-size', '44px').text('Dofetilide treatment')

// black bar at left edge
canvas.append('rect').attr('x', 0).attr('y', 1025).attr('width', 113).attr('height', 11).attr('fill', '#000')
</script>
</body>
</html>
